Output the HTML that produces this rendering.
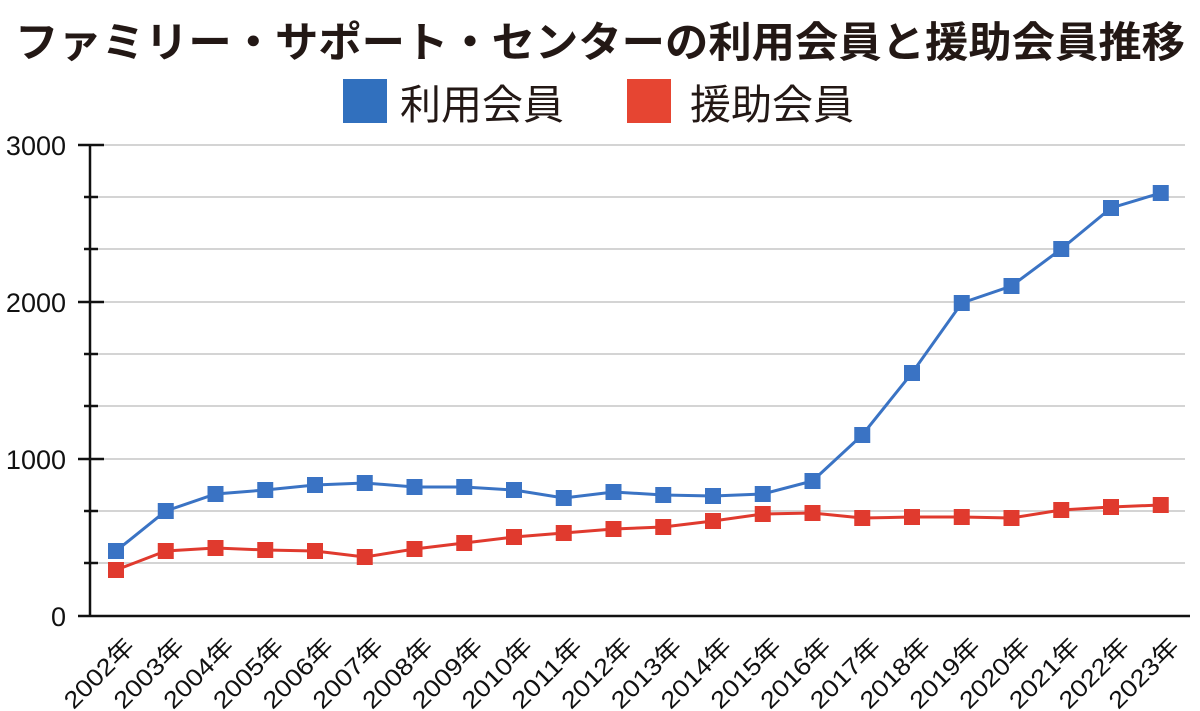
<!DOCTYPE html>
<html><head><meta charset="utf-8"><style>
html,body{margin:0;padding:0;background:#fff;}
svg{display:block;font-family:"Liberation Sans","Noto Sans CJK JP",sans-serif;}
</style></head><body>
<svg width="1200" height="711" viewBox="0 0 1200 711" xmlns="http://www.w3.org/2000/svg">
<text x="600" y="57" text-anchor="middle" font-size="42" font-weight="bold" fill="#231815" textLength="1170" lengthAdjust="spacingAndGlyphs" font-family="'Noto Sans CJK JP',sans-serif">ファミリー・サポート・センターの利用会員と援助会員推移</text>
<rect x="343" y="79" width="44" height="44" fill="#3170BE"/>
<text x="400" y="119" font-size="41" fill="#231815" font-family="'Noto Sans CJK JP',sans-serif">利用会員</text>
<rect x="627" y="79" width="44" height="44" fill="#E64532"/>
<text x="690" y="119" font-size="41" fill="#231815" font-family="'Noto Sans CJK JP',sans-serif">援助会員</text>
<g stroke="#d4d4d4" stroke-width="2">
<line x1="103" x2="1185" y1="145" y2="145"/><line x1="98" x2="1185" y1="197" y2="197"/><line x1="98" x2="1185" y1="249" y2="249"/><line x1="103" x2="1185" y1="302" y2="302"/><line x1="98" x2="1185" y1="354" y2="354"/><line x1="98" x2="1185" y1="406" y2="406"/><line x1="103" x2="1185" y1="459" y2="459"/><line x1="98" x2="1185" y1="511" y2="511"/><line x1="98" x2="1185" y1="563" y2="563"/>
</g>
<g stroke="#111" stroke-width="2.5">
<line x1="90" y1="145" x2="90" y2="616"/>
<line x1="78" x2="1190" y1="616" y2="616"/>
<line x1="78" x2="104" y1="145" y2="145"/><line x1="84" x2="98" y1="197" y2="197"/><line x1="84" x2="98" y1="249" y2="249"/><line x1="78" x2="104" y1="302" y2="302"/><line x1="84" x2="98" y1="354" y2="354"/><line x1="84" x2="98" y1="406" y2="406"/><line x1="78" x2="104" y1="459" y2="459"/><line x1="84" x2="98" y1="511" y2="511"/><line x1="84" x2="98" y1="563" y2="563"/>
</g>
<g font-size="27" fill="#111" text-anchor="end">
<text x="66" y="155">3000</text><text x="66" y="312">2000</text><text x="66" y="469">1000</text><text x="66" y="626">0</text>
</g>
<g id="chart"></g>
<script>
var b=[551,511,494,490,485,483,487,487,490,498,492,495,496,494,481,435,373,303,286,249,208,193];
var r=[570,551,548,550,551,557,549,543,537,533,529,527,521,514,513,518,517,517,518,510,507,505];
var ns="http://www.w3.org/2000/svg",g=document.getElementById("chart");
function X(i){return 116+i*49.75;}
function line(d,c){var p=document.createElementNS(ns,"polyline");p.setAttribute("points",d.map(function(v,i){return X(i)+","+v}).join(" "));p.setAttribute("fill","none");p.setAttribute("stroke",c);p.setAttribute("stroke-width","3");g.appendChild(p);
d.forEach(function(v,i){var s=document.createElementNS(ns,"rect");s.setAttribute("x",X(i)-8);s.setAttribute("y",v-8);s.setAttribute("width",16);s.setAttribute("height",16);s.setAttribute("fill",c);g.appendChild(s);});}
line(r,"#E03A2E");line(b,"#3A73C4");
for(var i=0;i<22;i++){var t=document.createElementNS(ns,"text");var x=X(i)+20,y=648;t.setAttribute("x",x);t.setAttribute("y",y);t.setAttribute("text-anchor","end");t.setAttribute("font-size","24");t.setAttribute("textLength","88");t.setAttribute("lengthAdjust","spacingAndGlyphs");t.setAttribute("fill","#111");t.setAttribute("transform","rotate(-45 "+x+" "+y+")");t.textContent=(2002+i)+"年";g.appendChild(t);}
</script>
</svg>
</body></html>
